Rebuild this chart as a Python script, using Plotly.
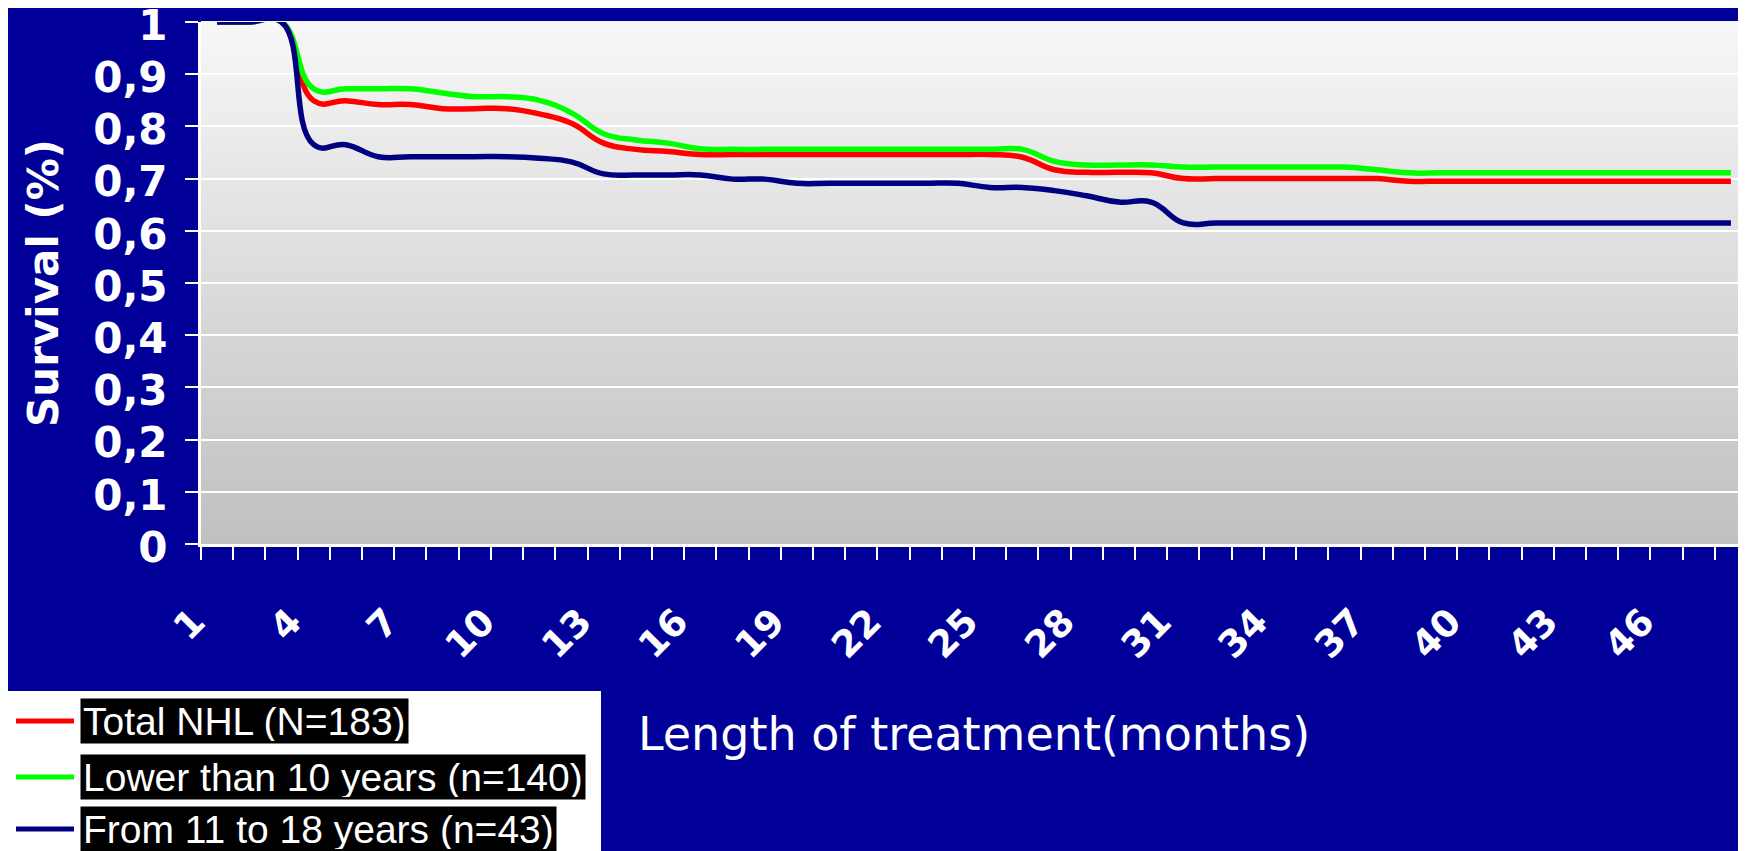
import plotly.graph_objects as go

# ---------------- data ----------------
months = list(range(1, 49))
x_tick_labels = [str(m) for m in range(1, 49, 3)]
y_tick_values = [0, 0.1, 0.2, 0.3, 0.4, 0.5, 0.6, 0.7, 0.8, 0.9, 1]
y_tick_labels = ["0", "0,1", "0,2", "0,3", "0,4", "0,5", "0,6", "0,7", "0,8", "0,9", "1"]

series_names = ["Total NHL (N=183)", "Lower than 10 years (n=140)", "From 11 to 18 years (n=43)"]
series_colors = ["#FF0000", "#00FF00", "#000080"]

total_nhl = [1.0, 1.0, 1.0, 0.849, 0.849, 0.842, 0.842, 0.834, 0.834, 0.834,
             0.824, 0.806, 0.768, 0.756, 0.752, 0.746, 0.746, 0.746, 0.746, 0.746,
             0.746, 0.746, 0.746, 0.746, 0.746, 0.741, 0.717, 0.712, 0.712, 0.711,
             0.700, 0.700, 0.700, 0.700, 0.700, 0.700, 0.700, 0.695, 0.695, 0.695,
             0.695, 0.695, 0.695, 0.695, 0.695, 0.695, 0.695, 0.695]
lower_10 = [1.0, 1.0, 1.0, 0.872, 0.872, 0.872, 0.872, 0.864, 0.857, 0.857,
            0.850, 0.826, 0.786, 0.774, 0.768, 0.757, 0.756, 0.756, 0.756, 0.756,
            0.756, 0.756, 0.756, 0.756, 0.756, 0.756, 0.733, 0.726, 0.726, 0.726,
            0.722, 0.722, 0.722, 0.722, 0.722, 0.722, 0.717, 0.711, 0.711, 0.711,
            0.711, 0.711, 0.711, 0.711, 0.711, 0.711, 0.711, 0.711]
from_11_18 = [1.0, 1.0, 1.0, 0.765, 0.765, 0.742, 0.742, 0.742, 0.742, 0.742,
              0.739, 0.732, 0.709, 0.707, 0.707, 0.707, 0.699, 0.699, 0.691, 0.691,
              0.691, 0.691, 0.691, 0.691, 0.683, 0.683, 0.677, 0.667, 0.655, 0.655,
              0.615, 0.615, 0.615, 0.615, 0.615, 0.615, 0.615, 0.615, 0.615, 0.615,
              0.615, 0.615, 0.615, 0.615, 0.615, 0.615, 0.615, 0.615]
series_values = [total_nhl, lower_10, from_11_18]

# ---------------- layout constants ----------------
OFF = 8                      # page offset of the figure inside the browser page
W, H = 1746, 851
ML, MR, MT, MB = 193, 7, 14, 315
PW, PH = W - ML - MR, H - MT - MB
BG = "#000099"


def px_x(p):
    """page pixel x -> paper coordinate"""
    return (p - OFF - ML) / PW


def px_y(p):
    """page pixel y -> paper coordinate"""
    return (H - MB - (p - OFF)) / PH


fig = go.Figure()
for name, vals, col in zip(series_names, series_values, series_colors):
    fig.add_trace(go.Scatter(
        x=months, y=vals, name=name, mode="lines",
        line=dict(color=col, width=5.5, shape="spline", smoothing=1.3),
        showlegend=False, hoverinfo="x+y+name"))

shapes = []
# vertical gradient in plot area
N = 90
top = (0xF7, 0xF7, 0xF7)
bot = (0xC0, 0xC0, 0xC0)
for k in range(N):
    t = (k + 0.5) / N
    c = tuple(round(bot[j] + (top[j] - bot[j]) * t) for j in range(3))
    shapes.append(dict(type="rect", xref="x domain", yref="y domain",
                       x0=0, x1=1, y0=k / N, y1=(k + 1) / N + 0.002,
                       fillcolor="rgb(%d,%d,%d)" % c, line=dict(width=0), layer="below"))

# manual legend (white box, coloured samples, black-highlighted labels)
shapes.append(dict(type="rect", xref="paper", yref="paper",
                   x0=px_x(6), x1=px_x(601), y0=px_y(870), y1=px_y(691),
                   fillcolor="white", line=dict(width=0), layer="above"))
legend_rows = [721, 777, 829]
annotations = []
for name, col, yr in zip(series_names, series_colors, legend_rows):
    shapes.append(dict(type="line", xref="paper", yref="paper",
                       x0=px_x(16), x1=px_x(74), y0=px_y(yr), y1=px_y(yr),
                       line=dict(color=col, width=5), layer="above"))
    annotations.append(dict(xref="paper", yref="paper", x=px_x(80), y=px_y(yr),
                            xanchor="left", yanchor="middle", showarrow=False,
                            text=name, bgcolor="black", borderpad=2, height=40,
                            font=dict(family="Liberation Sans, Arial, sans-serif",
                                      size=39, color="white")))

fig.update_layout(
    width=W, height=H,
    margin=dict(l=ML, r=MR, t=MT, b=MB, autoexpand=False),
    paper_bgcolor=BG, plot_bgcolor="#C0C0C0",
    shapes=shapes, annotations=annotations,
    font=dict(family="DejaVu Sans", color="white"),
    xaxis=dict(
        range=[0.5, 48.5], tickmode="array", automargin=False,
        tickvals=list(range(1, 49, 3)), ticktext=x_tick_labels,
        ticks="", tickangle=-45, ticklabelstandoff=38, ticklabelshift=-23,
        ticklabeloverflow="allow",
        tickfont=dict(family="DejaVu Sans", size=37, color="white", weight="bold"),
        minor=dict(tickmode="array", tickvals=[k + 0.5 for k in range(49)],
                   ticks="outside", ticklen=13, tickwidth=2, tickcolor="white", showgrid=False),
        showgrid=False, zeroline=False,
        showline=True, linecolor="white", linewidth=3,
        title=dict(text="Length of treatment(months)", standoff=53,
                   font=dict(family="DejaVu Sans", size=46, color="white")),
    ),
    yaxis=dict(
        range=[0, 1], tickmode="array", tickvals=y_tick_values, ticktext=y_tick_labels,
        automargin=False, ticklabeloverflow="allow",
        ticks="outside", ticklen=13, tickwidth=2, tickcolor="white",
        ticklabelstandoff=9, ticklabelshift=3,
        tickfont=dict(family="DejaVu Sans", size=42, color="white", weight="bold"),
        showgrid=True, gridcolor="white", gridwidth=2, zeroline=False,
        showline=True, linecolor="white", linewidth=3,
        title=dict(text="Survival (%)", standoff=22,
                   font=dict(family="DejaVu Sans", size=42, color="white", weight="bold")),
    ),
)

fig.write_html("out.html")
